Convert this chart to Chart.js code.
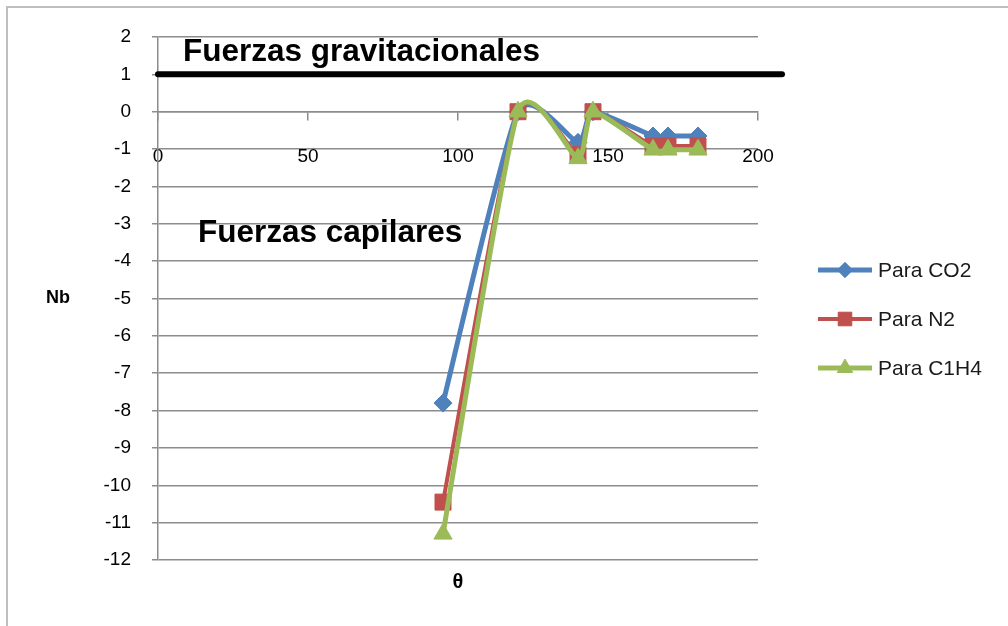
<!DOCTYPE html>
<html>
<head>
<meta charset="utf-8">
<script src="https://cdn.jsdelivr.net/npm/chart.js@4.4.1/dist/chart.umd.min.js"></script>
<style>
  html, body { margin: 0; padding: 0; background: #fff; }
  canvas { display: block; }
</style>
</head>
<body>
<canvas id="nbChart" width="1008" height="626"></canvas>
<script>
// ángulo de contacto θ (grados) y número de Bond Nb de cada gas
const theta = [95, 120, 140, 145, 165, 170, 180];
const nbCO2 = [-7.8, 0, -0.82, 0, -0.65, -0.65, -0.65];
const nbN2 = [-10.45, 0, -1.15, 0, -0.92, -0.92, -0.92];
const nbC1H4 = [-11.3, 0, -1.25, 0, -1.02, -1.02, -1.02];

// recta Nb = 1 que separa las dos zonas
const limiteX = [0, 208];
const limiteY = [1, 1];

const xTicks = [0, 50, 100, 150, 200];
const yMin = -12;
const yMax = 2;

const gris = '#8c8c8c';
const fuente = '"Liberation Sans", Arial, sans-serif';

function toPoints(xs, ys) {
    return xs.map((x, i) => ({ x: x, y: ys[i] }));
}

// suavizado tipo Catmull-Rom uniforme en lugar del de Chart.js
const suavizado = {
    id: 'suavizado',
    beforeDatasetDraw(chart, args) {
        const meta = args.meta;
        if (!meta.dataset || !meta.dataset.options.tension) return;
        const pts = meta.data;
        const k = 0.1;
        pts.forEach((p, i) => {
            const prev = pts[i - 1] || p;
            const next = pts[i + 1] || p;
            const dx = (next.x - prev.x) * k;
            const dy = (next.y - prev.y) * k;
            p.cp1x = p.x - dx;
            p.cp1y = p.y - dy;
            p.cp2x = p.x + dx;
            p.cp2y = p.y + dy;
        });
        meta.dataset._pointsUpdated = true;
    }
};

const anotaciones = {
    id: 'anotaciones',
    beforeDraw(chart) {
        // marco del gráfico
        const ctx = chart.ctx;
        ctx.save();
        ctx.strokeStyle = '#bfbfbf';
        ctx.lineWidth = 2;
        ctx.beginPath();
        ctx.moveTo(7, chart.height);
        ctx.lineTo(7, 7);
        ctx.lineTo(chart.width, 7);
        ctx.stroke();
        ctx.restore();
    },
    afterDraw(chart) {
        const ctx = chart.ctx;
        const sx = chart.scales.x;
        const sy = chart.scales.y;
        const area = chart.chartArea;
        ctx.save();
        ctx.fillStyle = '#000';
        ctx.textBaseline = 'middle';
        ctx.textAlign = 'left';
        ctx.font = 'bold 31.5px ' + fuente;
        ctx.fillText('Fuerzas gravitacionales', sx.getPixelForValue(8.3), sy.getPixelForValue(1.6));
        ctx.fillText('Fuerzas capilares', sx.getPixelForValue(13.3), sy.getPixelForValue(-3.25));

        ctx.textAlign = 'center';
        ctx.font = 'bold 18px ' + fuente;
        ctx.fillText('Nb', area.left - 100, (area.top + area.bottom) / 2);
        ctx.font = 'bold 20px ' + fuente;
        ctx.fillText('θ', (area.left + area.right) / 2, area.bottom + 22);

        // leyenda: línea con el marcador en el centro
        const lx = area.right + 60;
        chart.data.datasets.forEach((ds, i) => {
            if (i === 0) return;
            const ly = 270 + (i - 1) * 49;
            ctx.strokeStyle = ds.borderColor;
            ctx.fillStyle = ds.backgroundColor;
            ctx.lineWidth = ds.borderWidth;
            ctx.lineCap = 'butt';
            ctx.beginPath();
            ctx.moveTo(lx, ly);
            ctx.lineTo(lx + 54, ly);
            ctx.stroke();
            ctx.lineWidth = 1;
            Chart.helpers.drawPoint(ctx, {
                pointStyle: ds.pointStyle,
                radius: ds.pointRadius * 0.85,
                rotation: 0,
                borderWidth: 1
            }, lx + 27, ly);
            ctx.fillStyle = '#1a1a1a';
            ctx.textAlign = 'left';
            ctx.font = '21px ' + fuente;
            ctx.fillText(ds.label, lx + 60, ly + 1);
        });
        ctx.restore();
    }
};

const serie = (label, ys, color, estilo, radio, ancho, orden) => ({
    label: label,
    data: toPoints(theta, ys),
    borderColor: color,
    backgroundColor: color,
    pointBorderColor: color,
    pointBackgroundColor: color,
    borderWidth: ancho,
    pointStyle: estilo,
    pointRadius: radio,
    pointBorderWidth: 1,
    tension: 0.4,
    order: orden
});

const chart = new Chart(document.getElementById('nbChart'), {
    type: 'line',
    data: {
        datasets: [
            {
                label: 'Nb = 1',
                data: toPoints(limiteX, limiteY),
                borderColor: '#000',
                borderWidth: 6,
                borderCapStyle: 'round',
                pointRadius: 0,
                tension: 0,
                clip: false,
                order: 0
            },
            serie('Para CO2', nbCO2, '#4F81BD', 'rectRot', 9, 5, 3),
            serie('Para N2', nbN2, '#C0504D', 'rect', 11.3, 4, 2),
            serie('Para C1H4', nbC1H4, '#9BBB59', 'triangle', 10.5, 5, 1)
        ]
    },
    options: {
        responsive: false,
        animation: false,
        layout: { padding: { left: 0, right: 250, top: 37, bottom: 66 } },
        plugins: {
            legend: { display: false },
            tooltip: { enabled: false }
        },
        scales: {
            x: {
                type: 'linear',
                position: { y: 0 },
                min: 0,
                max: 200,
                afterBuildTicks: (s) => { s.ticks = xTicks.map(v => ({ value: v })); },
                grid: { drawOnChartArea: false, tickLength: 8, color: gris, lineWidth: 1.5 },
                border: { color: gris, width: 1.5 },
                ticks: { padding: 26, maxRotation: 0, color: '#000', font: { family: fuente, size: 19 } }
            },
            y: {
                type: 'linear',
                min: yMin,
                max: yMax,
                afterFit: (s) => { s.width = 158; },
                grid: { tickLength: 6, color: gris, lineWidth: 1.5 },
                border: { color: gris, width: 1.5 },
                ticks: { stepSize: 1, padding: 21, color: '#000', font: { family: fuente, size: 19 } }
            }
        }
    },
    plugins: [suavizado, anotaciones]
});
</script>
</body>
</html>
